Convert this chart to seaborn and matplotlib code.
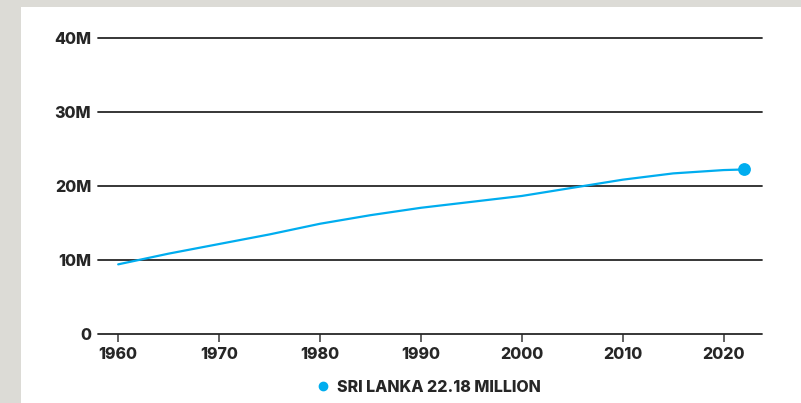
import matplotlib
matplotlib.use("Agg")
import matplotlib.pyplot as plt
import seaborn as sns
import pandas as pd
from matplotlib.lines import Line2D
from matplotlib.patches import Rectangle

years = [1960, 1965, 1970, 1975, 1980, 1985, 1990, 1995, 2000, 2005, 2010, 2015, 2020, 2022]
population_m = [9.35, 10.8, 12.1, 13.4, 14.84, 16.0, 17.0, 17.8, 18.6, 19.7, 20.8, 21.65, 22.1, 22.18]
y_ticks = [0, 10, 20, 30, 40]
y_tick_labels = ["0", "10M", "20M", "30M", "40M"]
x_ticks = [1960, 1970, 1980, 1990, 2000, 2010, 2020]
legend_label = "SRI LANKA 22.18 MILLION"

df = pd.DataFrame({"year": years, "pop": population_m})

sns.set_theme(style="white")
plt.rcParams["font.family"] = ["Inter", "DejaVu Sans"]

BLUE = "#00adef"
DARK = "#262626"
BG = "#dcdbd6"
WEIGHT = 800

fig = plt.figure(figsize=(8.01, 4.03), dpi=100, facecolor=BG)
fig.patches.append(Rectangle((21 / 801, 0), 1 - 21 / 801, (403 - 7) / 403,
                             transform=fig.transFigure, facecolor="white",
                             edgecolor="none", zorder=-10))

left = 98 / 801
right = 762 / 801
bottom = (403 - 333.5) / 403
top = (403 - 34) / 403
ax = fig.add_axes([left, bottom, right - left, top - bottom])
ax.set_facecolor("none")
ax.set_zorder(5)

sns.lineplot(data=df, x="year", y="pop", ax=ax, color=BLUE, linewidth=1.6,
             zorder=3)
ax.plot([years[-1]], [population_m[-1]], marker="o", markersize=8.2,
        color=BLUE, zorder=4, clip_on=False)

ax.set_xlim(1958.0, 2023.8)
ax.set_ylim(0, 40.5)

for yv in y_ticks:
    ax.axhline(yv, color=DARK, linewidth=1.3, zorder=2, clip_on=False)

ax.set_yticks(y_ticks)
ax.set_yticklabels(y_tick_labels)
ax.set_xticks(x_ticks)
ax.set_xticklabels([str(x) for x in x_ticks])

for s in ax.spines.values():
    s.set_visible(False)

ax.tick_params(axis="y", length=0, pad=5, labelsize=11.5, labelcolor=DARK)
ax.tick_params(axis="x", length=6, width=1.3, color="#555555", pad=4,
               labelsize=11.5, labelcolor=DARK, bottom=True)
for lab in ax.get_xticklabels() + ax.get_yticklabels():
    lab.set_fontweight(WEIGHT)

ax.set_xlabel("")
ax.set_ylabel("")
ax.grid(False)

handle = Line2D([], [], marker="o", color=BLUE, linestyle="none", markersize=6)
leg = fig.legend(handles=[handle], labels=[legend_label], loc="center",
                 bbox_to_anchor=(428 / 801, (403 - 387) / 403), frameon=False,
                 handletextpad=0.4, handlelength=1.0,
                 prop={"weight": WEIGHT, "size": 11.5})
for t in leg.get_texts():
    t.set_color(DARK)

fig.savefig("out.png", dpi=100, facecolor=BG)
